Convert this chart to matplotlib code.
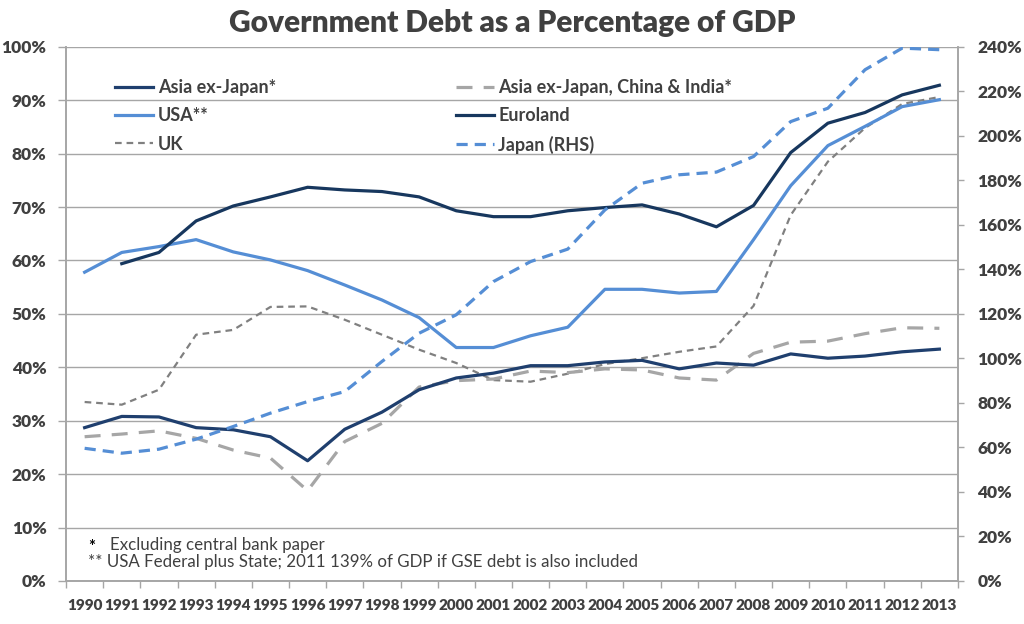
import numpy as np
import matplotlib.pyplot as plt
from matplotlib.ticker import FuncFormatter, MultipleLocator

plt.rcParams['font.family'] = ['Lato', 'DejaVu Sans']

years = list(range(1990, 2014))

asia_ex_japan = [28.7, 30.8, 30.7, 28.7, 28.3, 27.0, 22.5, 28.4, 31.6, 35.8, 38.0, 38.9,
                 40.3, 40.3, 41.0, 41.3, 39.7, 40.8, 40.4, 42.5, 41.7, 42.1, 42.9, 43.4]
asia_ex_cn_in = [27.0, 27.5, 28.1, 26.7, 24.5, 23.0, 16.9, 26.1, 29.5, 36.3, 37.5, 37.8,
                 39.3, 39.0, 39.7, 39.5, 38.0, 37.6, 42.6, 44.7, 44.9, 46.3, 47.4, 47.3]
usa = [57.8, 61.5, 62.6, 63.9, 61.6, 60.1, 58.1, 55.4, 52.6, 49.3, 43.7, 43.7,
       45.9, 47.5, 54.6, 54.6, 53.9, 54.2, 63.9, 74.0, 81.5, 85.1, 88.8, 90.1]
euroland = [None, 59.4, 61.5, 67.4, 70.2, 71.9, 73.7, 73.2, 72.9, 71.9, 69.3, 68.2,
            68.2, 69.3, 69.9, 70.4, 68.7, 66.3, 70.3, 80.2, 85.7, 87.7, 91.0, 92.8]
uk = [33.5, 33.0, 35.8, 46.1, 47.0, 51.3, 51.4, 48.9, 46.1, 43.3, 40.8, 37.6,
      37.3, 38.8, 40.6, 41.7, 42.9, 43.9, 51.5, 68.5, 78.5, 84.8, 89.3, 90.6]
japan_rhs = [59.6, 57.4, 59.2, 63.7, 69.4, 75.4, 80.6, 85.1, 98.6, 111.3, 119.6, 134.5,
             143.5, 149.1, 166.7, 178.7, 182.5, 183.7, 190.7, 206.4, 212.4, 229.7, 239.4, 238.7]

footnote1 = "Excluding central bank paper"
footnote2 = "** USA Federal plus State; 2011 139% of GDP if GSE debt is also included"

txt = '#404040'
grid = '#a6a6a6'
navy = '#17375e'
navy2 = '#1f3f6e'
lightblue = '#558ed5'

x = np.arange(len(years))
euro = np.array([np.nan if v is None else v for v in euroland], dtype=float)

fig = plt.figure(figsize=(10.24, 6.24), dpi=100)
ax = fig.add_axes([0.0645, 0.069, 0.871, 0.856])
ax2 = ax.twinx()

l_uk, = ax.plot(x, uk, color='#808080', lw=1.6, dashes=(3, 2.2))
l_cn, = ax.plot(x, asia_ex_cn_in, color='#a6a6a6', lw=2.3, dashes=(5, 3.5))
l_usa, = ax.plot(x, usa, color=lightblue, lw=2.3)
l_eu, = ax.plot(x, euro, color=navy, lw=2.3)
l_asia, = ax.plot(x, asia_ex_japan, color=navy2, lw=2.3)
l_jp, = ax2.plot(x, japan_rhs, color=lightblue, lw=2.3, dashes=(3.5, 2.2))

ax.set_xlim(-0.5, len(years) - 0.5)
ax.set_ylim(0, 100)
ax2.set_ylim(0, 240)
ax.yaxis.set_major_locator(MultipleLocator(10))
ax2.yaxis.set_major_locator(MultipleLocator(20))
pct = FuncFormatter(lambda v, p: f'{v:.0f}%')
ax.yaxis.set_major_formatter(pct)
ax2.yaxis.set_major_formatter(pct)

ax.set_xticks(x)
ax.set_xticklabels([str(y) for y in years])
ax.set_xticks(np.arange(-0.5, len(years)), minor=True)
ax.tick_params(axis='x', which='major', length=0, pad=13)
ax.tick_params(axis='x', which='minor', length=5, color=grid, width=1)
ax.tick_params(axis='y', length=6, color=grid, width=1, pad=8)
ax2.tick_params(axis='y', length=4, color=grid, width=1, pad=10)

for a in (ax, ax2):
    for lab in a.get_xticklabels() + a.get_yticklabels():
        lab.set_fontweight('heavy')
        lab.set_color(txt)
        lab.set_fontsize(12.5)
for lab in ax.get_xticklabels():
    lab.set_fontsize(11)

ax.grid(axis='y', color=grid, lw=1)
ax.set_axisbelow(True)
for a in (ax, ax2):
    a.spines['top'].set_visible(False)
    for s in ('left', 'right', 'bottom'):
        a.spines[s].set_color(grid)
        a.spines[s].set_linewidth(1.2)

fig.text(0.5, 0.963, 'Government Debt as a Percentage of GDP', ha='center', va='center',
         fontsize=21.5, fontweight='heavy', color=txt)

leg_kw = dict(frameon=False, handlelength=2.1, handletextpad=0.25, labelspacing=0.62,
              prop={'weight': 'bold', 'size': 13}, labelcolor=txt, borderaxespad=0)
leg1 = ax2.legend([l_asia, l_usa, l_uk], ['Asia ex-Japan*', 'USA**', 'UK'],
                  loc='upper left', bbox_to_anchor=(0.047, 0.953), **leg_kw)
ax2.add_artist(leg1)
ax2.legend([l_cn, l_eu, l_jp], ['Asia ex-Japan, China & India*', 'Euroland', 'Japan (RHS)'],
           loc='upper left', bbox_to_anchor=(0.429, 0.953), **leg_kw)

fig.text(0.086, 0.124, '*', fontsize=12, color='black', fontweight='bold', va='center')
fig.text(0.1074, 0.126, footnote1, fontsize=12.2, color=txt, va='center')
fig.text(0.086, 0.100, footnote2, fontsize=12.2, color=txt, va='center')

fig.savefig('out.png', dpi=100)
